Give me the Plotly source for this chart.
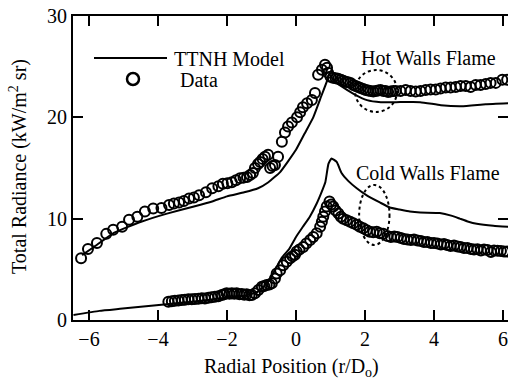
import plotly.graph_objects as go

# ---------------- data ----------------
hot_data_x = [-6.23, -6.03, -5.77, -5.50, -5.30, -5.04, -4.84, -4.60, -4.38, -4.14, -3.90, -3.68,
              -3.54, -3.39, -3.25, -3.10, -2.96, -2.81, -2.61, -2.43, -2.25, -2.12, -1.99, -1.86,
              -1.74, -1.62, -1.52, -1.42, -1.33, -1.25, -1.19, -1.10, -1.04, -0.97, -0.90, -0.81,
              -0.75, -0.68, -0.61, -0.52, -0.41, -0.32, -0.23, -0.12, 0.03, 0.12, 0.20, 0.32,
              0.46, 0.55, 0.64, 0.75, 0.84, 0.90, 0.93, 1.00, 1.07, 1.15, 1.22, 1.30, 1.37, 1.44,
              1.51, 1.58, 1.66, 1.73, 1.80, 1.87, 1.95, 2.02, 2.09, 2.16, 2.24, 2.31, 2.38, 2.45,
              2.53, 2.60, 2.67, 2.74, 2.82, 2.89, 3.03, 3.18, 3.32, 3.47, 3.61, 3.76, 3.90, 4.05,
              4.19, 4.34, 4.48, 4.63, 4.77, 4.92, 5.06, 5.21, 5.35, 5.50, 5.64, 5.79, 5.98, 6.12]
hot_data_y = [6.1, 7.0, 7.6, 8.5, 8.9, 9.2, 9.9, 10.2, 10.7, 11.0, 11.05, 11.35,
              11.5, 11.6, 11.75, 12.0, 12.1, 12.3, 12.6, 13.0, 13.2, 13.45, 13.5, 13.6,
              13.8, 14.0, 14.05, 14.1, 14.3, 14.5, 15.0, 15.4, 15.6, 15.9, 16.1, 16.3,
              15.0, 15.2, 15.3, 16.1, 17.6, 18.5, 19.1, 19.5, 20.0, 20.5, 21.0, 21.4,
              21.7, 22.4, 24.2, 24.7, 25.2, 24.9, 24.4, 24.0, 23.9, 23.85, 23.8, 23.7, 23.6, 23.5,
              23.45, 23.4, 23.2, 23.1, 23.0, 22.9, 22.8, 22.7, 22.65, 22.6, 22.55, 22.6, 22.65, 22.7,
              22.6, 22.6, 22.5, 22.55, 22.6, 22.6, 22.6, 22.7, 22.6, 22.55, 22.6, 22.7, 22.75, 22.75,
              22.85, 22.95, 22.95, 23.0, 23.1, 23.1, 23.0, 23.2, 23.2, 23.3, 23.4, 23.4, 23.7, 23.7]

cold_data_x = [-3.70, -3.60, -3.51, -3.41, -3.31, -3.22, -3.12, -3.02, -2.93, -2.83, -2.73, -2.64,
               -2.54, -2.45, -2.35, -2.25, -2.15, -2.08, -2.01, -1.93, -1.86, -1.79, -1.72, -1.64,
               -1.57, -1.50, -1.43, -1.35, -1.28, -1.19, -1.09, -0.99, -0.92, -0.85, -0.77, -0.70,
               -0.61, -0.56, -0.46, -0.37, -0.27, -0.17, -0.10, -0.03, 0.02, 0.10, 0.21, 0.30,
               0.41, 0.50, 0.60, 0.70, 0.75, 0.79, 0.84, 0.89, 0.97, 1.02, 1.08, 1.15, 1.23, 1.30,
               1.37, 1.47, 1.57, 1.66, 1.76, 1.85, 1.95, 2.05, 2.14, 2.24, 2.34, 2.43, 2.53, 2.65,
               2.75, 2.85, 2.94, 3.04, 3.13, 3.23, 3.33, 3.42, 3.52, 3.62, 3.71, 3.81, 3.91, 4.00,
               4.10, 4.20, 4.29, 4.38, 4.48, 4.58, 4.68, 4.77, 4.87, 4.97, 5.07, 5.16, 5.26, 5.36,
               5.45, 5.55, 5.65, 5.74, 5.84, 5.94, 6.03, 6.12]
cold_data_y = [1.80, 1.85, 1.90, 1.93, 1.97, 2.00, 2.04, 2.05, 2.07, 2.10, 2.14, 2.12,
               2.20, 2.25, 2.30, 2.35, 2.47, 2.55, 2.63, 2.60, 2.63, 2.58, 2.63, 2.55,
               2.57, 2.50, 2.53, 2.45, 2.47, 2.63, 2.96, 3.29, 3.35, 3.46, 3.50, 3.62,
               4.10, 4.60, 4.90, 5.40, 5.75, 6.10, 6.30, 6.45, 6.75, 6.95, 7.20, 7.55,
               7.90, 8.20, 8.55, 9.20, 9.70, 10.20, 10.70, 11.20, 11.70, 11.40, 11.20, 10.80, 10.50, 10.20,
               10.00, 9.85, 9.70, 9.55, 9.40, 9.20, 9.05, 8.85, 8.70, 8.65, 8.70, 8.55, 8.50, 8.30,
               8.20, 8.25, 8.20, 8.10, 8.00, 7.95, 7.90, 7.95, 7.85, 7.80, 7.70, 7.70, 7.60, 7.60,
               7.55, 7.45, 7.50, 7.40, 7.30, 7.35, 7.25, 7.20, 7.10, 7.10, 7.00, 6.95, 6.98, 6.85,
               6.95, 6.90, 6.70, 6.85, 6.84, 6.80, 6.75, 6.75]

hot_model_x = [-6.20, -5.86, -5.28, -4.49, -3.74, -2.96, -2.43, -2.00, -1.50, -1.10, -0.80, -0.46,
               0.00, 0.25, 0.50, 0.70, 0.90, 0.96, 1.10, 1.30, 1.68, 2.06, 2.46, 2.90, 3.60, 4.20,
               4.80, 5.50, 6.15]
hot_model_y = [6.4, 7.2, 8.6, 9.7, 10.5, 11.2, 11.7, 12.2, 12.6, 13.0, 13.6, 14.6,
               16.8, 18.4, 20.0, 21.8, 23.6, 24.3, 23.6, 23.1, 22.3, 21.7, 21.5, 21.5, 21.5, 21.2,
               21.1, 21.3, 21.4]

cold_model_x = [-6.45, -5.70, -5.10, -4.50, -3.90, -3.00, -2.00, -1.50, -1.10, -0.80, -0.60, -0.40,
                -0.20, 0.00, 0.20, 0.40, 0.60, 0.75, 0.85, 0.94, 1.03, 1.18, 1.32, 1.52, 1.76, 2.05,
                2.43, 2.72, 3.00, 3.30, 3.60, 4.17, 4.50, 4.75, 5.00, 5.24, 5.72, 6.15]
cold_model_y = [0.5, 0.9, 1.1, 1.3, 1.5, 1.8, 2.2, 2.4, 2.8, 3.8, 5.0, 6.2,
                7.0, 8.2, 9.2, 10.2, 11.5, 12.7, 13.6, 15.4, 15.95, 15.6, 14.5, 13.7, 13.0, 12.3,
                11.6, 11.1, 10.9, 10.7, 10.6, 10.55, 10.3, 10.0, 9.7, 9.5, 9.3, 9.2]

x_ticks = [-6, -4, -2, 0, 2, 4, 6]
y_ticks = [0, 10, 20, 30]

FONT = "Times New Roman, Liberation Serif, DejaVu Serif, serif"

fig = go.Figure()
for mx, my in [(hot_model_x, hot_model_y), (cold_model_x, cold_model_y)]:
    fig.add_trace(go.Scatter(x=mx, y=my, mode="lines", showlegend=False,
                             line=dict(color="black", width=2, shape="spline", smoothing=0.4)))
for dx, dy in [(hot_data_x, hot_data_y), (cold_data_x, cold_data_y)]:
    fig.add_trace(go.Scatter(x=dx, y=dy, mode="markers", showlegend=False,
                             marker=dict(symbol="circle-open", size=10, color="black",
                                         line=dict(width=2, color="black"))))
# dummy trace for right-side ticks
fig.add_trace(go.Scatter(x=[None], y=[None], yaxis="y2", showlegend=False, hoverinfo="skip"))

# geometry helpers (pixel -> paper)
L, R, T, B = 73, 508, 16, 320
def px(xp):
    return (xp - L) / (R - L)
def py(yp):
    return (B - yp) / (B - T)

shapes = [
    dict(type="line", xref="paper", yref="paper", x0=px(94), x1=px(167), y0=py(58), y1=py(58),
         line=dict(color="black", width=2)),
    dict(type="circle", xref="paper", yref="paper", x0=px(127), x1=px(139), y0=py(85), y1=py(73),
         line=dict(color="black", width=2.5)),
    dict(type="circle", xref="x", yref="y", x0=1.71, x1=2.93, y0=20.53, y1=24.67,
         line=dict(color="black", width=2, dash="dot")),
    dict(type="circle", xref="x", yref="y", x0=1.83, x1=2.71, y0=7.41, y1=13.33,
         line=dict(color="black", width=2, dash="dot")),
]

annotations = [
    dict(text="TTNH Model", xref="paper", yref="paper", x=px(172), y=py(59), xanchor="left", yanchor="middle",
         showarrow=False, font=dict(family=FONT, size=20, color="black")),
    dict(text="Data", xref="paper", yref="paper", x=px(178), y=py(80), xanchor="left", yanchor="middle",
         showarrow=False, font=dict(family=FONT, size=20, color="black")),
    dict(text="Hot Walls Flame", xref="paper", yref="paper", x=px(428), y=py(58), xanchor="center", yanchor="middle",
         showarrow=False, font=dict(family=FONT, size=20, color="black")),
    dict(text="Cold Walls Flame", xref="paper", yref="paper", x=px(428), y=py(173), xanchor="center", yanchor="middle",
         showarrow=False, font=dict(family=FONT, size=20, color="black")),
    dict(text="Radial Position (r/D<sub>o</sub>)", xref="paper", yref="paper", x=px(291), y=py(367),
         xanchor="center", yanchor="middle", showarrow=False, font=dict(family=FONT, size=20, color="black")),
    dict(text="Total Radiance (kW/m<sup>2</sup> sr)", xref="paper", yref="paper", x=px(18), y=py(167),
         xanchor="center", yanchor="middle", textangle=-90, showarrow=False,
         font=dict(family=FONT, size=20, color="black")),
]

fig.update_layout(
    width=508, height=381,
    margin=dict(l=L, r=508 - R, t=T, b=381 - B, pad=0),
    paper_bgcolor="white", plot_bgcolor="white",
    font=dict(family=FONT, size=20, color="black"),
    shapes=shapes, annotations=annotations,
    xaxis=dict(range=[-6.464, 6.145], tickvals=x_ticks, ticks="inside", ticklen=10, tickwidth=2,
               tickcolor="black", showline=True, linewidth=2, linecolor="black", mirror="ticks",
               showgrid=False, zeroline=False, tickfont=dict(family=FONT, size=20)),
    yaxis=dict(range=[0, 30], tickvals=y_ticks, ticks="inside", ticklen=10, tickwidth=2,
               tickcolor="black", showline=True, linewidth=2, linecolor="black", mirror=False,
               showgrid=False, zeroline=False, tickfont=dict(family=FONT, size=20)),
    yaxis2=dict(range=[0, 30], tickvals=y_ticks, overlaying="y", side="right", ticks="inside",
                ticklen=10, tickwidth=2, tickcolor="black", showline=False, showgrid=False,
                zeroline=False, showticklabels=False),
)

fig.write_html("out.html")
